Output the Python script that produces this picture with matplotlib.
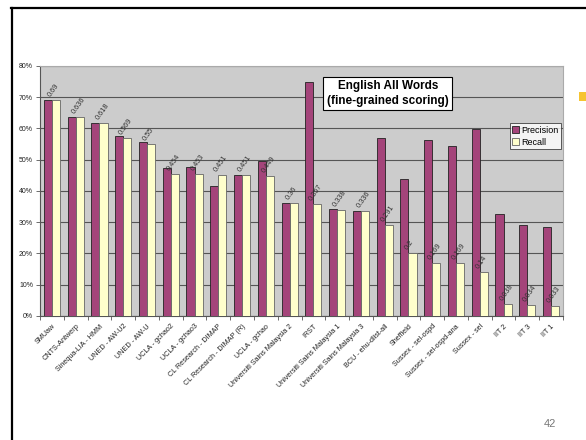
"""Senseval-3 English all-words results slide (precision vs recall)."""

import matplotlib

matplotlib.use("Agg")
import matplotlib.pyplot as plt  # noqa: E402
from matplotlib.patches import Rectangle  # noqa: E402
from matplotlib.lines import Line2D  # noqa: E402
import numpy as np  # noqa: E402

plt.rcParams["font.family"] = ["Liberation Sans", "DejaVu Sans"]

systems = [
    "SMUaw", "CNTS-Antwerp", "Sinequa-LIA - HMM", "UNED - AW-U2", "UNED - AW-U",
    "UCLA - gchao2", "UCLA - gchao3", "CL Research - DIMAP", "CL Research - DIMAP (R)",
    "UCLA - gchao", "Universiti Sains Malaysia 2", "IRST", "Universiti Sains Malaysia 1",
    "Universiti Sains Malaysia 3", "BCU - ehu-dlist-all", "Sheffield", "Sussex - sel-ospd",
    "Sussex - sel-ospd-ana", "Sussex - sel", "IIT 2", "IIT 3", "IIT 1",
]
precision = [0.69, 0.636, 0.618, 0.575, 0.556, 0.475, 0.476, 0.416, 0.451, 0.497,
             0.36, 0.748, 0.342, 0.336, 0.570, 0.439, 0.564, 0.544, 0.597, 0.326,
             0.291, 0.286]
recall = [0.69, 0.636, 0.618, 0.569, 0.55, 0.454, 0.453, 0.451, 0.451, 0.449,
          0.36, 0.357, 0.338, 0.336, 0.291, 0.2, 0.169, 0.169, 0.14, 0.038,
          0.034, 0.033]
recall_labels = ["0.69", "0.636", "0.618", "0.569", "0.55", "0.454", "0.453", "0.451",
                 "0.451", "0.449", "0.36", "0.357", "0.338", "0.336", "0.291", "0.2",
                 "0.169", "0.169", "0.14", "0.038", "0.034", "0.033"]
yticks = [0, 0.1, 0.2, 0.3, 0.4, 0.5, 0.6, 0.7, 0.8]

PREC_C = "#A4447A"
REC_C = "#FFFFCC"
BG = "#CCCCCC"

fig = plt.figure(figsize=(5.86, 4.40), dpi=100)

# slide frame
fig.add_artist(Line2D([12 / 586, 12 / 586], [0, 1 - 8 / 440], color="black", lw=1.6))
fig.add_artist(Line2D([11 / 586, 1], [1 - 8 / 440, 1 - 8 / 440], color="black", lw=1.6))
# little yellow bullet at the right edge
fig.add_artist(Rectangle((579 / 586, 1 - 101 / 440), 8 / 586, 9 / 440,
                         facecolor="#F6C431", edgecolor="none"))
fig.text(550 / 586, 1 - 424 / 440, "42", fontsize=8, color="#777777", ha="center", va="center")

ax = fig.add_axes([40 / 586, 1 - 316 / 440, 523 / 586, 250 / 440])
ax.set_facecolor(BG)
x = np.arange(len(systems))
w = 0.34
ax.bar(x - w / 2, precision, w, color=PREC_C, edgecolor="#222222", linewidth=0.6,
       label="Precision", zorder=3)
ax.bar(x + w / 2, recall, w, color=REC_C, edgecolor="#666666", linewidth=0.6,
       label="Recall", zorder=3)
for xi, v, lab in zip(x, recall, recall_labels):
    ax.text(xi + 0.02, v + 0.006, lab, rotation=55, rotation_mode="anchor",
            ha="left", va="bottom", fontsize=5.3, color="#333333", zorder=4)

ax.set_xlim(-0.5, len(systems) - 0.5)
ax.set_ylim(0, 0.8)
ax.set_yticks(yticks)
ax.set_yticklabels([f"{int(round(t * 100))}%" for t in yticks], fontsize=5, color="#222222")
ax.yaxis.grid(True, color="#555555", lw=0.8, zorder=1)
ax.set_axisbelow(True)
ax.tick_params(axis="y", length=3, width=0.6, pad=2, color="#555555")

ax.set_xticks(x)
ax.set_xticklabels(systems, rotation=45, ha="right", rotation_mode="anchor",
                   fontsize=5.2, color="#222222")
ax.tick_params(axis="x", length=0, pad=5)
ax.set_xticks(np.arange(len(systems) + 1) - 0.5, minor=True)
ax.tick_params(axis="x", which="minor", length=3, width=0.6, color="#555555")

for s in ("top", "right"):
    ax.spines[s].set_color("#AAAAAA")
    ax.spines[s].set_linewidth(0.8)
for s in ("left", "bottom"):
    ax.spines[s].set_color("#555555")
    ax.spines[s].set_linewidth(0.8)

ax.text(0.665, 0.89, "English All Words\n(fine-grained scoring)", transform=ax.transAxes,
        ha="center", va="center", fontsize=8.5, fontweight="bold", linespacing=1.3,
        bbox=dict(boxstyle="square,pad=0.3", facecolor="white", edgecolor="black", lw=0.8),
        zorder=5)

leg = ax.legend(loc="upper right", bbox_to_anchor=(1.0, 0.78), fontsize=6.5,
                frameon=True, fancybox=False, handlelength=0.7, handleheight=0.7,
                handletextpad=0.3, borderpad=0.3, labelspacing=0.35, borderaxespad=0.2)
leg.get_frame().set_edgecolor("#333333")
leg.get_frame().set_linewidth(0.7)
leg.set_zorder(5)

fig.savefig("out.png", dpi=100, facecolor="white")
